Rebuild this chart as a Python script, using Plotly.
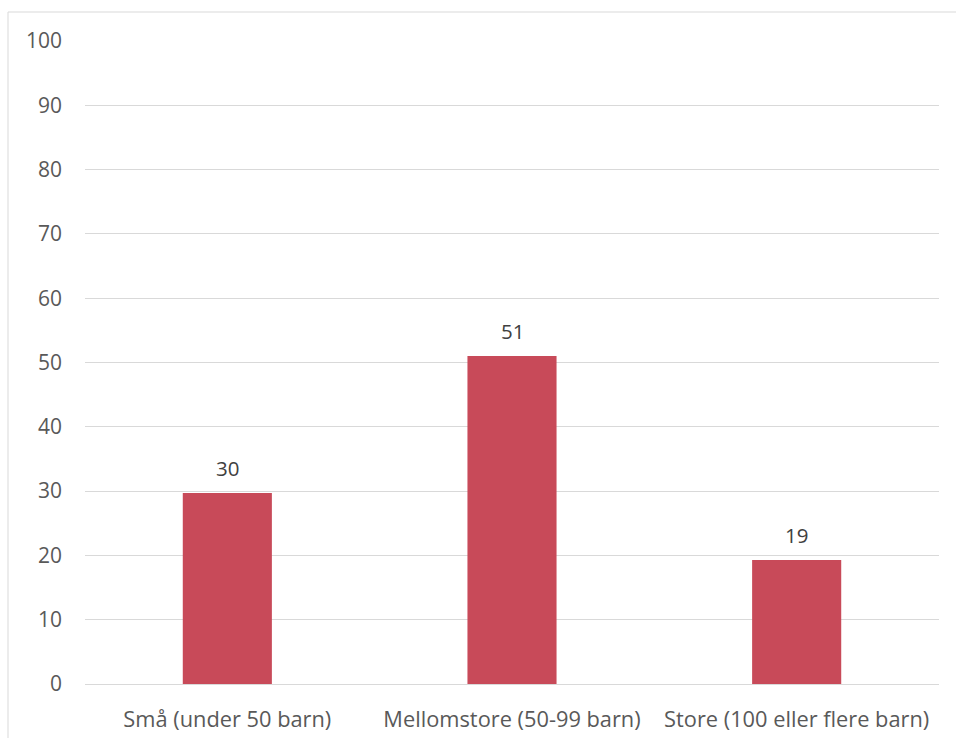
import plotly.graph_objects as go

categories = ["Små (under 50 barn)", "Mellomstore (50-99 barn)", "Store (100 eller flere barn)"]
values = [29.7, 51.0, 19.3]
labels = ["30", "51", "19"]
y_ticks = [0, 10, 20, 30, 40, 50, 60, 70, 80, 90, 100]

bar_color = "#C84A59"
text_color = "#595959"
font_family = "Open Sans"

fig = go.Figure()
fig.add_trace(go.Bar(
    x=categories, y=values, marker=dict(color=bar_color, line=dict(width=0)),
    width=0.313, hoverinfo="skip",
))

for c, v, t in zip(categories, values, labels):
    fig.add_annotation(x=c, y=v, text=t, showarrow=False, yshift=25,
                       font=dict(size=20.5, color="#404040", family=font_family))

fig.update_layout(
    width=956, height=738,
    margin=dict(l=85, r=17, t=41, b=54, autoexpand=False),
    paper_bgcolor="white", plot_bgcolor="white",
    showlegend=False,
    font=dict(family=font_family, size=21, color=text_color),
    xaxis=dict(showgrid=False, showline=False, zeroline=False, ticks="", automargin=False,
               ticklabelstandoff=20, tickfont=dict(size=21.8, color=text_color, family=font_family)),
    yaxis=dict(range=[0, 100], tickvals=y_ticks, showgrid=True, gridcolor="#D9D9D9",
               gridwidth=1, zeroline=True, zerolinecolor="#D9D9D9", zerolinewidth=1,
               showline=False, ticks="", ticklabelstandoff=22, automargin=False,
               tickfont=dict(size=21, color=text_color, family=font_family)),
    shapes=[dict(type="rect", xref="paper", yref="paper",
                 x0=(8 - 85) / 854, x1=1.2, y0=-0.2, y1=(684 - 12) / 643,
                 line=dict(color="#D9D9D9", width=1), fillcolor="rgba(0,0,0,0)",
                 layer="below")],
)

fig.write_html("out.html")
